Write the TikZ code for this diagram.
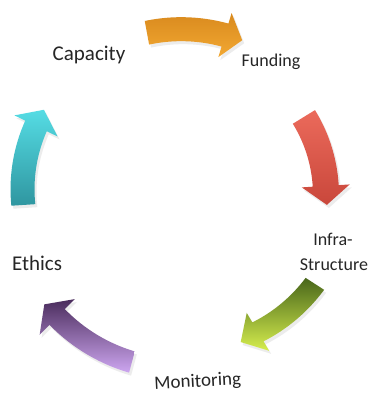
\documentclass[tikz,border=0pt]{standalone}
\usepackage{fontspec}
\setmainfont{Carlito}
\usetikzlibrary{shadows}

\definecolor{orDark}{HTML}{D98A1E}
\definecolor{orLight}{HTML}{FFCB4C}
\definecolor{orMid}{HTML}{F2A832}
\definecolor{rdDark}{HTML}{C9473B}
\definecolor{rdMid}{HTML}{EB6A5B}
\definecolor{rdLight}{HTML}{F58C7E}
\definecolor{gnDark}{HTML}{48661A}
\definecolor{gnMid}{HTML}{7C9C2C}
\definecolor{gnLight}{HTML}{D6EE4E}
\definecolor{puDark}{HTML}{4A2C5C}
\definecolor{puMid}{HTML}{9C70C4}
\definecolor{puLight}{HTML}{CDA6F0}
\definecolor{tlLight}{HTML}{55DCE4}
\definecolor{tlMid}{HTML}{2F96A0}
\definecolor{tlDark}{HTML}{1F6872}

% centre of the cycle
\def\cx{177}
\def\cy{195}

% curved block arrow around (\cx,\cy)
% #1 tail angle, #2 tail radius, #3 head angle, #4 head radius,
% #5 half body width, #6 half head width, #7 head length, #8 style
\newcommand\bentarrow[8]{%
  \pgfmathsetmacro\sgn{((#3)>(#1)) ? 1 : -1}%
  \path[#8]
    plot[domain=#1:#3, samples=30, variable=\t]
      ({\cx+((#2)+((#4)-(#2))*(\t-(#1))/((#3)-(#1))+(#5))*cos(\t)},
       {\cy+((#2)+((#4)-(#2))*(\t-(#1))/((#3)-(#1))+(#5))*sin(\t)})
    -- ({\cx+((#4)+(#6))*cos(#3)}, {\cy+((#4)+(#6))*sin(#3)})
    -- ({\cx+(#4)*cos(#3)-\sgn*(#7)*sin(#3)}, {\cy+(#4)*sin(#3)+\sgn*(#7)*cos(#3)})
    -- ({\cx+((#4)-(#6))*cos(#3)}, {\cy+((#4)-(#6))*sin(#3)})
    -- plot[domain=#3:#1, samples=30, variable=\t]
      ({\cx+((#2)+((#4)-(#2))*(\t-(#1))/((#3)-(#1))-(#5))*cos(\t)},
       {\cy+((#2)+((#4)-(#2))*(\t-(#1))/((#3)-(#1))-(#5))*sin(\t)})
    -- cycle;
}

\tikzset{
  lbl/.style={text=black!85, inner sep=0pt, anchor=base},
  arrowbody/.style={drop shadow={opacity=0.15, shadow xshift=2pt, shadow yshift=-3pt}},
  orangearrow/.style={arrowbody, top color=orDark, middle color=orLight, bottom color=orMid},
  redarrow/.style={arrowbody, shading angle=100, top color=rdMid, middle color=rdLight, bottom color=rdDark},
  greenarrow/.style={arrowbody, shading angle=-45, top color=gnDark, middle color=gnMid, bottom color=gnLight},
  purplearrow/.style={arrowbody, shading angle=-40, top color=puDark, middle color=puMid, bottom color=puLight},
  tealarrow/.style={arrowbody, shading angle=90, top color=tlLight, middle color=tlDark, bottom color=tlMid},
}

\begin{document}
\begin{tikzpicture}[x=1pt, y=-1pt]
  \useasboundingbox[fill=white] (0,0) rectangle (371,394);

  % the five arrows of the cycle
  \bentarrow{-100.5}{165}{-73.3}{167}{12}{23}{18}{orangearrow}
  \bentarrow{-31.6}{149}{-3.5}{149}{13}{24}{19}{redarrow}
  \bentarrow{32.8}{164}{59.4}{159}{11}{22}{20}{greenarrow}
  \bentarrow{105.1}{173}{134.5}{171}{11}{25}{18}{purplearrow}
  \bentarrow{176.3}{154}{206.1}{157}{12}{24}{18}{tealarrow}

  % labels
  \node[lbl, font=\fontsize{21}{25}\selectfont] (capacity) at (89,60) {Capacity};
  \node[lbl, font=\fontsize{18}{22}\selectfont] (funding) at (271,66) {Funding};
  \node[lbl, font=\fontsize{18}{22}\selectfont] (infra) at (333,245) {Infra-};
  \node[lbl, font=\fontsize{18}{22}\selectfont] (structure) at (334,270) {Structure};
  \node[lbl, font=\fontsize{21}{25}\selectfont] (ethics) at (37,270) {Ethics};
  \node[lbl, font=\fontsize{19}{23}\selectfont, rotate=3] (monitoring) at (198,387) {Monitoring};
\end{tikzpicture}
\end{document}
